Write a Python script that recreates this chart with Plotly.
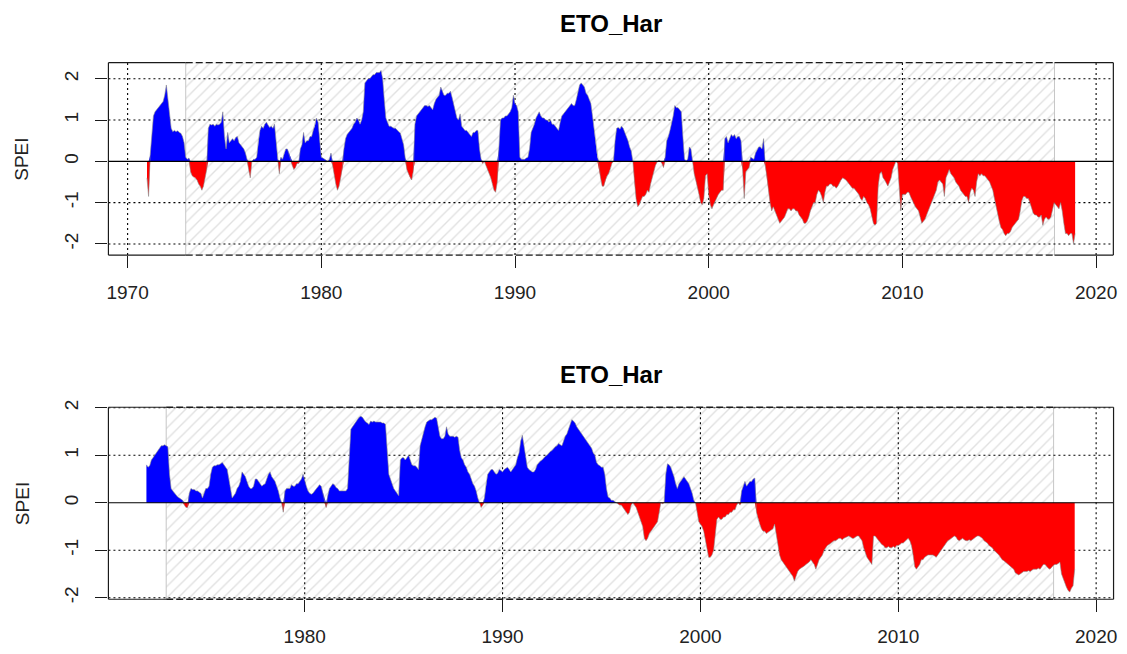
import plotly.graph_objects as go

# ---------------------------------------------------------------------------
# Monthly SPEI values, ETO_Har station (one row per year, Jan..Dec)
# ---------------------------------------------------------------------------
top_start_year = 1971
top_spei = [
    [-0.4, -0.85, 0.15, 0.6, 1.1, 1.2, 1.25, 1.3, 1.35, 1.4, 1.45, 1.6],        # 1971
    [1.85, 1.5, 1.2, 0.8, 0.72, 0.75, 0.72, 0.74, 0.7, 0.68, 0.6, 0.45],        # 1972
    [0.1, 0.05, 0.08, -0.25, -0.35, -0.38, -0.4, -0.45, -0.55, -0.6, -0.7, -0.6],
    [-0.4, -0.2, 0.8, 0.9, 0.88, 0.9, 0.85, 0.9, 0.88, 0.9, 0.95, 1.2],
    [0.6, 0.3, 0.7, 0.45, 0.5, 0.55, 0.5, 0.58, 0.6, 0.45, 0.4, 0.35],          # 1975
    [0.3, 0.2, 0.05, -0.2, -0.4, 0.0, 0.05, 0.05, 0.1, 0.5, 0.75, 0.85],
    [0.8, 0.9, 0.95, 0.88, 0.82, 0.85, 0.8, 0.9, 0.5, 0.05, -0.3, 0.1],
    [0.05, 0.2, 0.3, 0.3, 0.2, 0.05, -0.1, -0.2, -0.15, -0.05, -0.05, 0.3],
    [0.4, 0.7, 0.45, 0.5, 0.5, 0.6, 0.6, 0.75, 0.85, 1.05, 0.95, 0.5],
    [0.1, 0.08, 0.05, 0.02, 0.0, 0.05, 0.2, -0.1, -0.35, -0.55, -0.7, -0.6],    # 1980
    [-0.4, -0.15, 0.3, 0.55, 0.65, 0.7, 0.75, 0.8, 0.9, 0.95, 1.05, 1.0],
    [0.9, 1.0, 1.2, 1.9, 1.95, 2.0, 2.0, 2.05, 2.1, 2.1, 2.15, 2.15],
    [2.15, 2.2, 2.0, 1.5, 1.05, 0.95, 0.85, 0.85, 0.82, 0.8, 0.8, 0.75],
    [0.72, 0.68, 0.5, 0.4, 0.08, -0.2, -0.3, -0.4, -0.45, -0.25, 0.9, 1.1],
    [1.15, 1.2, 1.25, 1.3, 1.35, 1.35, 1.33, 1.35, 1.3, 1.25, 1.4, 1.5],        # 1985
    [1.55, 1.6, 1.8, 1.7, 1.6, 1.6, 1.65, 1.65, 1.7, 1.55, 1.4, 1.2],
    [1.05, 1.0, 1.15, 0.85, 0.8, 0.75, 0.75, 0.7, 0.65, 0.6, 0.7, 0.7],
    [0.75, 0.75, 0.3, 0.05, -0.05, 0.0, -0.1, -0.2, -0.3, -0.4, -0.55, -0.7],
    [-0.75, -0.5, 0.3, 1.0, 1.05, 1.05, 1.1, 1.1, 1.15, 1.2, 1.3, 1.6],
    [1.4, 1.35, 1.2, 0.1, 0.05, 0.05, 0.05, 0.08, 0.1, 0.3, 0.7, 0.8],          # 1990
    [0.9, 1.05, 1.15, 1.2, 1.1, 1.05, 1.05, 1.0, 1.0, 0.95, 1.0, 0.9],
    [0.9, 0.85, 0.8, 0.75, 0.95, 1.1, 1.15, 1.2, 1.25, 1.3, 1.35, 1.4],
    [1.35, 1.35, 1.5, 1.7, 1.85, 1.9, 1.85, 1.8, 1.65, 1.6, 1.5, 1.4],
    [1.1, 0.8, 0.4, 0.1, -0.2, -0.4, -0.6, -0.6, -0.45, -0.35, -0.3, -0.2],
    [-0.05, 0.0, 0.5, 0.8, 0.82, 0.78, 0.85, 0.8, 0.7, 0.6, 0.5, 0.35],         # 1995
    [0.25, 0.0, -0.5, -0.9, -1.1, -1.05, -0.95, -0.85, -0.85, -0.8, -0.7, -0.75],
    [-0.55, -0.4, -0.25, -0.1, -0.02, 0.02, 0.0, -0.05, -0.15, 0.1, 0.5, 0.6],
    [0.75, 0.9, 1.1, 1.35, 1.3, 1.3, 1.25, 1.2, 0.6, 0.05, 0.02, 0.05],
    [0.35, 0.3, 0.0, -0.3, -0.45, -0.6, -0.8, -1.0, -1.05, -0.9, -0.35, -0.3],
    [-0.8, -1.05, -1.15, -1.05, -0.95, -0.9, -0.8, -0.75, -0.7, -0.7, 0.55, 0.6],  # 2000
    [0.45, 0.55, 0.65, 0.6, 0.65, 0.55, 0.6, 0.6, 0.5, -0.2, -0.9, -0.25],
    [-0.2, -0.15, 0.1, 0.08, 0.05, 0.2, 0.28, 0.35, 0.35, 0.3, 0.55, -0.1],
    [-0.35, -0.7, -1.0, -1.2, -1.1, -1.2, -1.3, -1.4, -1.5, -1.45, -1.4, -1.35],
    [-1.25, -1.15, -1.15, -1.2, -1.15, -1.15, -1.2, -1.2, -1.3, -1.35, -1.4, -1.5],
    [-1.5, -1.45, -1.35, -1.2, -1.1, -1.0, -1.0, -0.8, -0.7, -0.75, -0.85, -1.0],  # 2005
    [-0.75, -0.6, -0.6, -0.55, -0.55, -0.6, -0.6, -0.65, -0.6, -0.5, -0.45, -0.4],
    [-0.42, -0.45, -0.5, -0.55, -0.6, -0.65, -0.65, -0.7, -0.75, -0.8, -0.9, -0.95],
    [-0.85, -0.9, -1.0, -1.05, -1.15, -1.3, -1.5, -1.55, -1.5, -0.6, -0.3, -0.25],
    [-0.4, -0.45, -0.55, -0.6, -0.5, -0.4, -0.2, -0.1, 0.0, -0.05, -0.6, -1.2],
    [-0.8, -0.8, -0.8, -0.75, -0.75, -0.85, -0.95, -1.0, -1.1, -1.15, -1.2, -1.35],  # 2010
    [-1.5, -1.45, -1.4, -1.3, -1.2, -1.1, -1.0, -0.9, -0.8, -0.7, -0.5, -0.45],
    [-0.5, -0.55, -0.85, -0.4, -0.3, -0.2, -0.3, -0.35, -0.4, -0.5, -0.55, -0.6],
    [-0.7, -0.75, -0.8, -0.85, -0.85, -1.0, -0.75, -0.65, -0.7, -0.85, -0.5, -0.3],
    [-0.35, -0.3, -0.35, -0.35, -0.4, -0.45, -0.5, -0.6, -0.7, -0.9, -1.1, -1.3],
    [-1.45, -1.6, -1.65, -1.75, -1.8, -1.75, -1.75, -1.7, -1.6, -1.55, -1.5, -1.45],  # 2015
    [-1.4, -1.2, -0.95, -0.85, -0.85, -0.9, -0.9, -1.0, -1.15, -1.25, -1.3, -1.3],
    [-1.35, -1.35, -1.3, -1.55, -1.4, -1.35, -1.4, -1.4, -1.35, -1.2, -1.0, -1.05],
    [-1.1, -1.15, -1.0, -1.2, -1.5, -1.75, -1.75, -1.8, -1.75, -1.75, -2.0, -1.75],  # 2018
]

bottom_start_year = 1972
bottom_spei = [
    [0.8, 0.75, 0.78, 0.9, 0.95, 1.0, 1.05, 1.1, 1.15, 1.2, 1.2, 1.22],          # 1972
    [1.2, 1.18, 0.6, 0.3, 0.25, 0.2, 0.15, 0.12, 0.1, 0.08, 0.05, -0.05],
    [-0.1, -0.1, 0.2, 0.3, 0.28, 0.28, 0.25, 0.25, 0.22, 0.2, 0.1, 0.2],
    [0.3, 0.3, 0.35, 0.6, 0.75, 0.78, 0.78, 0.8, 0.8, 0.82, 0.85, 0.8],          # 1975
    [0.75, 0.7, 0.5, 0.3, 0.1, 0.15, 0.2, 0.3, 0.35, 0.45, 0.65, 0.6],
    [0.55, 0.45, 0.35, 0.3, 0.3, 0.35, 0.5, 0.5, 0.45, 0.4, 0.35, 0.38],
    [0.4, 0.5, 0.6, 0.65, 0.55, 0.5, 0.45, 0.35, 0.25, 0.1, 0.0, -0.2],
    [0.25, 0.3, 0.3, 0.3, 0.38, 0.35, 0.35, 0.4, 0.4, 0.45, 0.5, 0.6],
    [0.45, 0.35, 0.25, 0.2, 0.18, 0.2, 0.25, 0.3, 0.35, 0.38, 0.35, 0.2],        # 1980
    [0.1, -0.1, 0.15, 0.3, 0.35, 0.4, 0.38, 0.32, 0.3, 0.25, 0.25, 0.25],
    [0.25, 0.25, 0.3, 0.9, 1.55, 1.6, 1.65, 1.7, 1.75, 1.8, 1.82, 1.8],
    [1.75, 1.7, 1.68, 1.65, 1.72, 1.7, 1.72, 1.7, 1.7, 1.7, 1.7, 1.68],
    [1.68, 1.65, 1.0, 0.6, 0.5, 0.4, 0.3, 0.25, 0.2, 0.15, 0.9, 0.95],
    [0.95, 0.9, 0.95, 1.0, 0.9, 0.8, 0.78, 0.78, 0.75, 0.7, 1.2, 1.35],          # 1985
    [1.5, 1.6, 1.7, 1.72, 1.75, 1.75, 1.78, 1.8, 1.78, 1.6, 1.4, 1.35],
    [1.35, 1.4, 1.6, 1.45, 1.4, 1.4, 1.4, 1.38, 1.4, 1.38, 1.1, 0.95],
    [0.9, 0.8, 0.75, 0.65, 0.6, 0.5, 0.4, 0.35, 0.25, 0.1, 0.0, -0.1],
    [-0.05, 0.1, 0.4, 0.6, 0.65, 0.7, 0.7, 0.65, 0.6, 0.62, 0.7, 0.68],
    [0.65, 0.7, 0.72, 0.75, 0.7, 0.65, 0.7, 0.75, 0.8, 0.95, 1.05, 1.3],         # 1990
    [1.42, 1.2, 0.95, 0.75, 0.7, 0.68, 0.65, 0.65, 0.7, 0.8, 0.85, 0.88],
    [0.9, 0.95, 0.98, 1.0, 1.05, 1.08, 1.1, 1.15, 1.18, 1.2, 1.25, 1.22],
    [1.2, 1.3, 1.4, 1.45, 1.55, 1.65, 1.75, 1.72, 1.68, 1.6, 1.55, 1.5],
    [1.45, 1.4, 1.35, 1.3, 1.25, 1.2, 1.15, 1.05, 1.0, 0.85, 0.8, 0.78],
    [0.75, 0.75, 0.6, 0.3, 0.12, 0.1, 0.05, 0.05, 0.02, 0.0, -0.02, -0.05],      # 1995
    [-0.05, -0.1, -0.15, -0.2, -0.25, -0.2, -0.05, 0.0, -0.05, -0.1, -0.2, -0.3],
    [-0.4, -0.5, -0.75, -0.8, -0.75, -0.65, -0.6, -0.55, -0.5, -0.45, -0.4, -0.2],
    [0.0, -0.02, 0.0, 0.6, 0.82, 0.8, 0.75, 0.65, 0.55, 0.4, 0.3, 0.4],
    [0.45, 0.5, 0.55, 0.5, 0.45, 0.4, 0.3, 0.2, 0.05, 0.0, -0.2, -0.4],
    [-0.45, -0.5, -0.6, -0.8, -1.0, -1.15, -1.15, -1.1, -1.0, -0.7, -0.35, -0.3],  # 2000
    [-0.35, -0.35, -0.3, -0.3, -0.25, -0.25, -0.2, -0.2, -0.15, -0.15, -0.05, 0.0],
    [-0.05, 0.25, 0.35, 0.45, 0.35, 0.4, 0.45, 0.45, 0.5, 0.52, -0.2, -0.35],
    [-0.45, -0.55, -0.6, -0.6, -0.65, -0.62, -0.6, -0.58, -0.55, -0.45, -0.7, -0.9],
    [-1.1, -1.2, -1.25, -1.3, -1.35, -1.4, -1.45, -1.5, -1.55, -1.65, -1.55, -1.45],
    [-1.4, -1.38, -1.35, -1.33, -1.3, -1.28, -1.25, -1.2, -1.25, -1.3, -1.4, -1.3],  # 2005
    [-1.2, -1.15, -1.1, -1.0, -0.95, -0.9, -0.88, -0.85, -0.82, -0.8, -0.8, -0.78],
    [-0.75, -0.75, -0.78, -0.75, -0.73, -0.72, -0.7, -0.72, -0.75, -0.75, -0.72, -0.7],
    [-0.7, -0.75, -0.8, -0.95, -1.05, -1.15, -1.2, -1.25, -1.3, -0.7, -0.7, -0.75],
    [-0.8, -0.85, -0.88, -0.9, -0.95, -0.95, -0.92, -0.95, -0.95, -0.92, -0.95, -0.9],
    [-0.9, -0.88, -0.85, -0.85, -0.82, -0.8, -0.75, -0.8, -0.9, -1.1, -1.35, -1.4],  # 2010
    [-1.35, -1.3, -1.2, -1.2, -1.15, -1.12, -1.1, -1.1, -1.1, -1.1, -1.12, -1.15],
    [-1.1, -1.05, -1.0, -0.95, -0.9, -0.85, -0.8, -0.78, -0.75, -0.72, -0.7, -0.72],
    [-0.78, -0.8, -0.78, -0.75, -0.78, -0.8, -0.8, -0.78, -0.8, -0.78, -0.75, -0.72],
    [-0.7, -0.7, -0.72, -0.75, -0.8, -0.82, -0.85, -0.9, -0.92, -0.95, -1.0, -1.03],
    [-1.07, -1.1, -1.15, -1.2, -1.22, -1.25, -1.28, -1.3, -1.32, -1.35, -1.4, -1.48],  # 2015
    [-1.5, -1.52, -1.5, -1.48, -1.45, -1.45, -1.45, -1.43, -1.45, -1.42, -1.4, -1.4],
    [-1.4, -1.38, -1.4, -1.35, -1.3, -1.3, -1.35, -1.38, -1.4, -1.35, -1.32, -1.3],
    [-1.3, -1.28, -1.25, -1.5, -1.6, -1.7, -1.78, -1.85, -1.88, -1.8, -1.75, -1.4],  # 2018
]

panel_title = "ETO_Har"
y_label = "SPEI"
y_ticks = [-2, -1, 0, 1, 2]
x_ticks = [1970, 1980, 1990, 2000, 2010, 2020]
reference_period = (1973.0, 2017.85)   # hatched calibration window

# ---------------------------------------------------------------------------
# Page geometry (pixels) and axis ranges for the two stacked panels
# ---------------------------------------------------------------------------
W, H = 1127, 654
FONT = "Liberation Sans, Arial, sans-serif"
INK = "#1a1a1a"

panels = [
    dict(rows=top_spei, start=top_start_year, ax="x", ay="y",
         xrange=[1969.01, 2020.89], yrange=[-2.27, 2.39],
         px=(107, 1117.3), py=(55.7, 251.7), title_y=16),
    dict(rows=bottom_spei, start=bottom_start_year, ax="x2", ay="y2",
         xrange=[1970.08, 2020.88], yrange=[-2.033, 2.012],
         px=(107, 1117.5), py=(406.7, 602.3), title_y=373),
]

fig = go.Figure()
shapes = []
annotations = []


def edge(x0, x1, y0, y1, dash="solid", width=1.2):
    """Box edge in paper coordinates (not clipped by the subplot)."""
    return dict(type="line", x0=x0, x1=x1, y0=y0, y1=y1, xref="paper", yref="paper",
                layer="above", line=dict(color=INK, width=width, dash=dash))


for k, p in enumerate(panels):
    values = [v for row in p["rows"] for v in row]
    t = [p["start"] + i / 12.0 for i in range(len(values))]
    x0, x1 = p["xrange"]
    y0, y1 = p["yrange"]
    h0, h1 = reference_period
    common = dict(xaxis=p["ax"], yaxis=p["ay"], hoverinfo="skip", showlegend=False)

    # hatched reference period
    fig.add_trace(go.Scatter(
        x=[h0, h1, h1, h0, h0], y=[y0, y0, y1, y1, y0], mode="lines",
        fill="toself", fillcolor="rgba(0,0,0,0)",
        fillpattern=dict(shape="/", fgcolor="#c2c2c2", bgcolor="rgba(0,0,0,0)",
                         size=8, solidity=0.17),
        line=dict(color="#c6c6c6", width=1), **common))

    # dotted grid (0 is drawn solid further down)
    gx, gy = [], []
    for yv in y_ticks:
        if yv != 0:
            gx += [x0, x1, None]
            gy += [yv, yv, None]
    for xv in x_ticks:
        gx += [xv, xv, None]
        gy += [y0, y1, None]
    fig.add_trace(go.Scatter(x=gx, y=gy, mode="lines",
                             line=dict(color="black", width=1.1, dash="2px,3px"),
                             **common))

    # wet (blue) and dry (red) areas
    pos = [max(v, 0.0) for v in values]
    neg = [min(v, 0.0) for v in values]
    fig.add_trace(go.Scatter(x=t, y=pos, mode="lines", fill="tozeroy",
                             fillcolor="#0000ff", line=dict(width=0, color="#0000ff"),
                             **common))
    fig.add_trace(go.Scatter(x=t, y=neg, mode="lines", fill="tozeroy",
                             fillcolor="#ff0000", line=dict(width=0, color="#ff0000"),
                             **common))

    # series outline
    fig.add_trace(go.Scatter(x=t, y=values, mode="lines",
                             line=dict(color="rgba(140,140,140,0.75)", width=0.8),
                             **common))

    # zero line
    fig.add_trace(go.Scatter(x=[x0, x1], y=[0, 0], mode="lines",
                             line=dict(color="black", width=1.2), **common))

    # axes
    suffix = "" if k == 0 else str(k + 1)
    xdom = [p["px"][0] / W, p["px"][1] / W]
    ydom = [1 - p["py"][1] / H, 1 - p["py"][0] / H]
    axis_common = dict(showgrid=False, zeroline=False, showline=False,
                       ticks="outside", ticklen=12, tickwidth=1.2, tickcolor=INK,
                       tickfont=dict(family=FONT, size=19, color="#222222"))
    fig.update_layout(**{
        "xaxis" + suffix: dict(domain=xdom, range=p["xrange"], anchor=p["ay"],
                               tickvals=x_ticks, ticktext=[str(v) for v in x_ticks],
                               ticklabelstandoff=8, **axis_common),
        "yaxis" + suffix: dict(domain=ydom, range=p["yrange"], anchor=p["ax"],
                               tickvals=y_ticks, ticktext=[str(v) for v in y_ticks],
                               tickangle=-90, ticklabelstandoff=10, **axis_common),
    })

    # plot box: top and bottom edges are dashed across the hatched window
    def to_paper_x(v):
        return xdom[0] + (v - x0) / (x1 - x0) * (xdom[1] - xdom[0])

    bx0, bx1 = xdom
    bh0, bh1 = to_paper_x(h0), to_paper_x(h1)
    by0, by1 = ydom
    shapes += [
        edge(bx0, bx0, by0, by1), edge(bx1, bx1, by0, by1),
        edge(bx0, bh0, by1, by1), edge(bh1, bx1, by1, by1),
        edge(bh0, bh1, by1, by1, dash="7px,3px", width=1.3),
        edge(bx0, bh0, by0, by0), edge(bh1, bx1, by0, by0),
        edge(bh0, bh1, by0, by0, dash="7px,3px", width=1.3),
    ]

    # titles
    cx = (p["px"][0] + p["px"][1]) / 2 / W
    annotations.append(dict(text="<b>%s</b>" % panel_title, x=cx, y=1 - p["title_y"] / H,
                            xref="paper", yref="paper", showarrow=False,
                            xanchor="center", yanchor="middle",
                            font=dict(family=FONT, size=24, color="black")))
    cy = 1 - (p["py"][0] + p["py"][1]) / 2 / H
    annotations.append(dict(text=y_label, x=20 / W, y=cy, xref="paper", yref="paper",
                            showarrow=False, textangle=-90,
                            xanchor="center", yanchor="middle",
                            font=dict(family=FONT, size=19, color="#222222")))

fig.update_layout(
    width=W, height=H, margin=dict(l=0, r=0, t=0, b=0),
    paper_bgcolor="white", plot_bgcolor="white",
    showlegend=False, shapes=shapes, annotations=annotations,
)

fig.write_html("out.html")
